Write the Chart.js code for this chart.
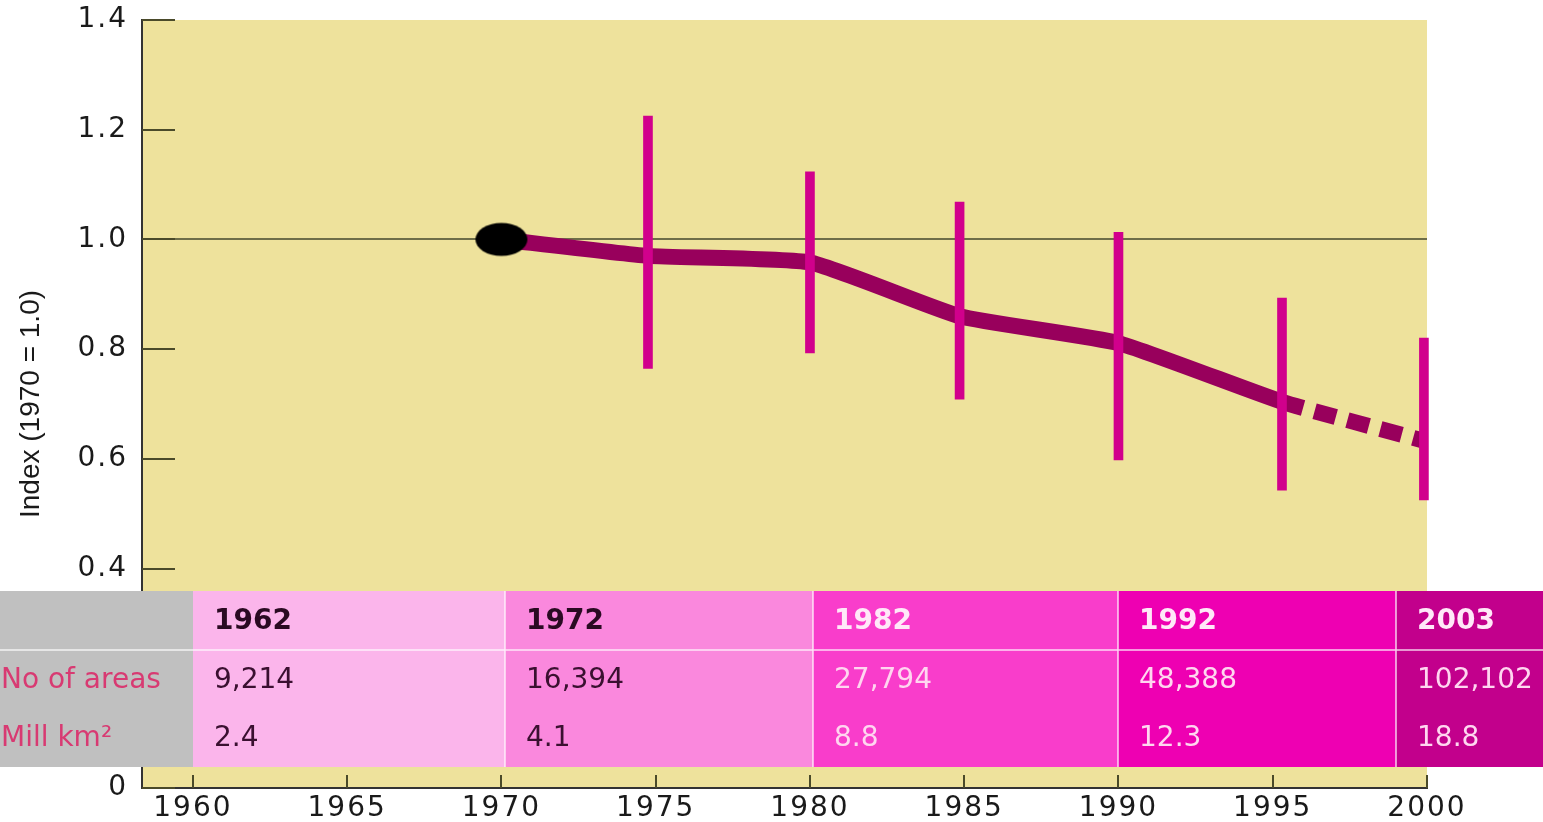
<!DOCTYPE html>
<html>
<head>
<meta charset="utf-8">
<script src="https://cdn.jsdelivr.net/npm/chart.js@4.4.1/dist/chart.umd.min.js"></script>
<style>
  html, body { margin: 0; padding: 0; background: #fff; }
  #wrap { width: 1543px; height: 822px; position: relative; }
</style>
</head>
<body>
<div id="wrap"><canvas id="indexChart"></canvas></div>
<script>
// DATA
const years = [1970, 1974.75, 1980, 1984.85, 1990, 1995.3, 1999.9];
const indexValues = [1.0, 0.970, 0.958, 0.860, 0.811, 0.704, 0.633];
const errYears = [1974.75, 1980, 1984.85, 1990, 1995.3, 1999.9];
const errLow = [0.765, 0.793, 0.709, 0.598, 0.543, 0.525];
const errHigh = [1.225, 1.123, 1.068, 1.013, 0.893, 0.820];
const xTicks = [1960, 1965, 1970, 1975, 1980, 1985, 1990, 1995, 2000];

const tableYears = ['1962', '1972', '1982', '1992', '2003'];
const tableAreas = ['9,214', '16,394', '27,794', '48,388', '102,102'];
const tableKm2 = ['2.4', '4.1', '8.8', '12.3', '18.8'];
const rowLabels = ['No of areas', 'Mill km\u00B2'];
// DATA

// black ellipse marker for the 1970 base point
const dot = document.createElement('canvas');
dot.width = 54; dot.height = 36;
(function () {
  const c = dot.getContext('2d');
  c.fillStyle = '#000';
  c.beginPath();
  c.ellipse(27, 18, 26, 16.5, 0, 0, Math.PI * 2);
  c.fill();
})();

const paper = {
  id: 'paper',
  beforeDraw(chart) {
    const { ctx, chartArea: a } = chart;
    ctx.save();
    ctx.fillStyle = '#EEE29C';
    ctx.fillRect(a.left, a.top, a.right - a.left, a.bottom - a.top);
    ctx.restore();
  },
  beforeDatasetsDraw(chart) {
    // tick marks pointing into the plot
    const { ctx, chartArea: a, scales } = chart;
    ctx.save();
    ctx.strokeStyle = '#4a4a2a';
    ctx.lineWidth = 2;
    ctx.beginPath();
    scales.y.ticks.forEach(t => {
      const py = Math.round(scales.y.getPixelForValue(t.value));
      ctx.moveTo(a.left, py);
      ctx.lineTo(a.left + 33, py);
    });
    scales.x.ticks.forEach(t => {
      const px = Math.round(scales.x.getPixelForValue(t.value));
      ctx.moveTo(px, a.bottom);
      ctx.lineTo(px, a.bottom - 13);
    });
    ctx.stroke();
    ctx.restore();
  },
  afterDatasetsDraw(chart) {
    // wide tick lettering
    chart.ctx.letterSpacing = '2px';
  },
  afterDraw(chart) {
    const ctx = chart.ctx;
    ctx.letterSpacing = '0px';

    // table overlay
    const colEdges = [0, 193, 505, 813, 1118, 1396, 1543];
    const colFills = ['#C0C0C0', '#FBB5EB', '#FA88DD', '#F93DCB', '#EE00B2', '#C2008C'];
    const top = 591, mid = 650, bottom = 767;
    const rowY = [622, 681, 739];

    ctx.save();
    for (let i = 0; i < colFills.length; i++) {
      ctx.fillStyle = colFills[i];
      ctx.fillRect(colEdges[i], top, colEdges[i + 1] - colEdges[i], bottom - top);
    }
    ctx.strokeStyle = 'rgba(255,255,255,0.8)';
    ctx.lineWidth = 1.5;
    ctx.beginPath();
    ctx.moveTo(0, mid); ctx.lineTo(1543, mid);
    for (let i = 2; i < colEdges.length - 1; i++) {
      ctx.moveTo(colEdges[i], top); ctx.lineTo(colEdges[i], bottom);
    }
    ctx.stroke();

    ctx.textBaseline = 'middle';
    ctx.textAlign = 'left';
    ctx.font = '28px "DejaVu Sans", Verdana, sans-serif';
    ctx.fillStyle = '#D83A72';
    ctx.fillText(rowLabels[0], 1, rowY[1]);
    ctx.fillText(rowLabels[1], 1, rowY[2]);

    for (let i = 0; i < tableYears.length; i++) {
      const x = colEdges[i + 1] + 21;
      const light = i >= 2;
      ctx.font = 'bold 28px "DejaVu Sans", Verdana, sans-serif';
      ctx.fillStyle = light ? '#FFE8F8' : '#2A0A22';
      ctx.fillText(tableYears[i], x, rowY[0]);
      ctx.font = '28px "DejaVu Sans", Verdana, sans-serif';
      ctx.fillStyle = light ? '#FFD6F0' : '#3A1030';
      ctx.fillText(tableAreas[i], x, rowY[1]);
      ctx.fillText(tableKm2[i], x, rowY[2]);
    }
    ctx.restore();
  }
};

const tickFont = { family: '"DejaVu Sans", Verdana, sans-serif', size: 28 };

const config = {
  type: 'line',
  data: {
    datasets: [
      {
        type: 'scatter',
        data: [{ x: years[0], y: indexValues[0] }],
        pointStyle: dot,
        pointRadius: 18,
        order: 0
      },
      {
        type: 'bar',
        data: errYears.map((yr, i) => ({ x: yr, y: [errLow[i], errHigh[i]] })),
        backgroundColor: '#D1008C',
        barThickness: 9,
        borderWidth: 0,
        clip: false,
        order: 1
      },
      {
        type: 'line',
        data: years.map((yr, i) => ({ x: yr, y: indexValues[i] })),
        borderColor: '#98005C',
        borderWidth: 16,
        borderCapStyle: 'butt',
        pointRadius: 0,
        tension: 0.15,
        fill: false,
        segment: {
          borderDash: c => c.p0.parsed.x >= 1995 ? [22, 12] : undefined
        },
        order: 2
      }
    ]
  },
  options: {
    responsive: true,
    maintainAspectRatio: false,
    animation: false,
    layout: { padding: { top: 20, right: 116, left: 0, bottom: 0 } },
    plugins: { legend: { display: false }, tooltip: { enabled: false } },
    scales: {
      x: {
        type: 'linear',
        min: 1958.35,
        max: 2000,
        offset: false,
        afterBuildTicks: s => { s.ticks = xTicks.map(v => ({ value: v })); },
        afterFit: s => { s.height = 34; s.paddingLeft = 0; s.paddingRight = 0; },
        grid: { display: false, drawTicks: false },
        border: { display: true, color: '#333', width: 2 },
        ticks: { z: 1, color: '#1a1a1a', font: tickFont, padding: 4, maxRotation: 0, callback: v => String(v) }
      },
      y: {
        type: 'linear',
        min: 0,
        max: 1.4,
        afterFit: s => { s.width = 142; s.paddingTop = 0; s.paddingBottom = 0; },
        grid: {
          drawTicks: false,
          color: c => Math.abs(c.tick.value - 1) < 1e-6 ? '#6E6E48' : 'rgba(0,0,0,0)',
          lineWidth: 2
        },
        border: { display: true, color: '#333', width: 2 },
        title: {
          display: true,
          text: 'Index (1970 = 1.0)',
          color: '#1a1a1a',
          font: { family: '"Liberation Sans Narrow", "Liberation Sans", Arial, sans-serif', size: 28 },
          padding: { top: 14, bottom: 0 }
        },
        ticks: {
          z: 1,
          stepSize: 0.2,
          color: '#1a1a1a',
          font: tickFont,
          padding: 14,
          callback: v => Math.abs(v) < 1e-6 ? '0' : v.toFixed(1)
        }
      }
    }
  },
  plugins: [paper]
};

const indexChart = new Chart(document.getElementById('indexChart'), config);
</script>
</body>
</html>
